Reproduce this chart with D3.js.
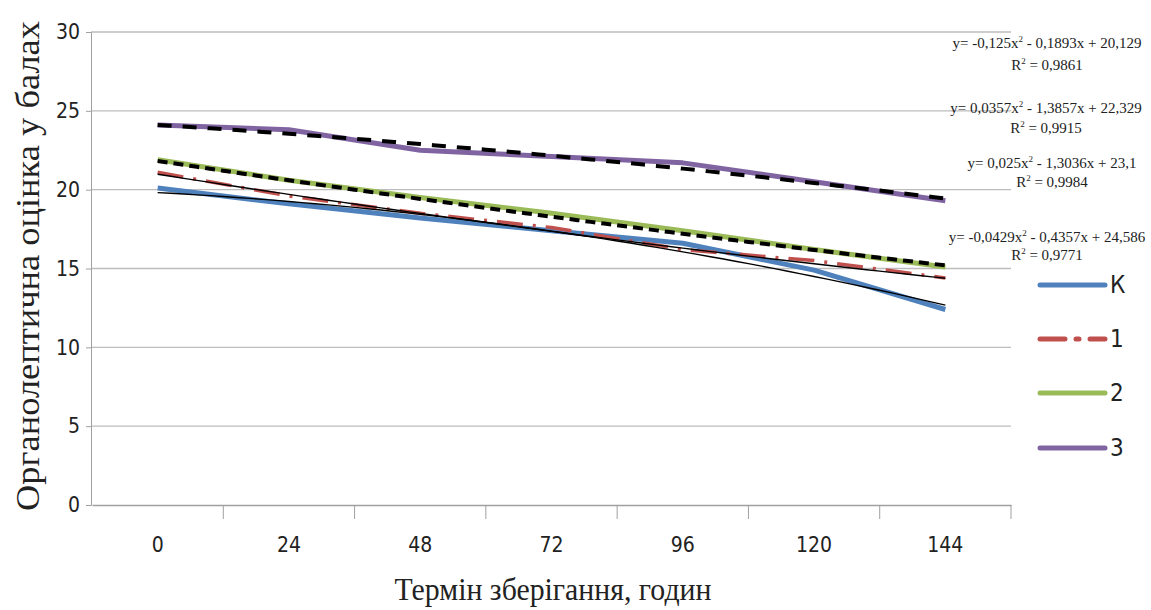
<!DOCTYPE html>
<html>
<head>
<meta charset="utf-8">
<script src="https://cdn.jsdelivr.net/npm/d3@7"></script>
<style>
  body { margin: 0; background: #fff; }
  svg { display: block; }
  .tick text { font-family: "Liberation Sans Narrow", "DejaVu Sans Condensed", sans-serif; fill: #222; }
</style>
</head>
<body>
<div id="chart"></div>
<script>
var width = 1151, height = 610;

// storage time, hours
var categories = [0, 24, 48, 72, 96, 120, 144];
var yTicks = [0, 5, 10, 15, 20, 25, 30];

var seriesNames = ['К', '1', '2', '3'];
var seriesK = [20.1, 19.1, 18.2, 17.4, 16.6, 14.9, 12.4];
var series1 = [21.1, 19.6, 18.5, 17.6, 16.2, 15.5, 14.4];
var series2 = [21.9, 20.6, 19.5, 18.5, 17.4, 16.2, 15.1];
var series3 = [24.1, 23.8, 22.5, 22.1, 21.7, 20.5, 19.3];

// polynomial trendlines (a*x^2 + b*x + c), x = 1..7
var trendK = [-0.125, -0.1893, 20.129];
var trend1 = [0.0357, -1.3857, 22.329];
var trend2 = [0.025, -1.3036, 23.1];
var trend3 = [-0.0429, -0.4357, 24.586];

var eqLabels = ['y= -0,125x² - 0,1893x + 20,129', 'y= 0,0357x² - 1,3857x + 22,329',
                'y= 0,025x² - 1,3036x + 23,1', 'y= -0,0429x² - 0,4357x + 24,586'];
var r2Labels = ['R² = 0,9861', 'R² = 0,9915', 'R² = 0,9984', 'R² = 0,9771'];

var colors = ['#4f81bd', '#c0504d', '#9bbb59', '#8064a2'];
var dashes = [null, '26,10,3,10', null, null];

var svg = d3.select('#chart').append('svg')
  .attr('width', width)
  .attr('height', height);

var x = d3.scaleBand().domain(categories).range([92, 1011]);
var xc = function(d) { return x(d) + x.bandwidth() / 2; };
var y = d3.scaleLinear().domain([0, 30]).range([505, 32]);

// gridlines
svg.append('g').selectAll('line')
  .data(yTicks.slice(1))
  .enter().append('line')
  .attr('x1', 91).attr('x2', 1011)
  .attr('y1', function(d) { return y(d); })
  .attr('y2', function(d) { return y(d); })
  .attr('stroke', '#bdbdbd')
  .attr('stroke-width', 1.3);

// y axis
var yAxis = svg.append('g')
  .attr('transform', 'translate(91,0)')
  .call(d3.axisLeft(y).tickValues(yTicks).tickSize(5).tickPadding(6));
yAxis.select('.domain').attr('stroke', '#a0a0a0');
yAxis.selectAll('.tick line').attr('stroke', '#a0a0a0');
yAxis.selectAll('.tick text').attr('font-size', 21).attr('font-family', null);

// x axis (labels at band centres, ticks at band edges)
var xAxis = svg.append('g')
  .attr('transform', 'translate(0,505)')
  .call(d3.axisBottom(x).tickSize(0).tickPadding(32));
xAxis.select('.domain').attr('stroke', '#a0a0a0').attr('stroke-width', 1.5);
xAxis.selectAll('.tick text').attr('font-size', 21).attr('font-family', null);
xAxis.selectAll('.edge')
  .data(categories.slice(1).concat(['end']))
  .enter().append('line')
  .attr('class', 'edge')
  .attr('x1', function(d) { return d === 'end' ? x.range()[1] : x(d); })
  .attr('x2', function(d) { return d === 'end' ? x.range()[1] : x(d); })
  .attr('y1', 0).attr('y2', 14)
  .attr('stroke', '#a0a0a0');

// data lines
var allSeries = [seriesK, series1, series2, series3];
var line = d3.line()
  .x(function(d, i) { return xc(categories[i]); })
  .y(function(d) { return y(d); });

allSeries.forEach(function(s, i) {
  svg.append('path')
    .datum(s)
    .attr('d', line)
    .attr('fill', 'none')
    .attr('stroke', colors[i])
    .attr('stroke-width', i === 1 ? 3.5 : 5)
    .attr('stroke-dasharray', dashes[i])
    .attr('stroke-linejoin', 'round');
});

// trendlines
var tx = d3.scaleLinear().domain([1, 7]).range([xc(categories[0]), xc(categories[6])]);
var trendSteps = d3.range(1, 7.01, 0.1);
var trends = [trendK, trend1, trend2, trend3];
var trendStyle = [
  { w: 1.4, dash: null },
  { w: 1.4, dash: null },
  { w: 4, dash: '10,6' },
  { w: 4, dash: '14,11' }
];
trends.forEach(function(c, i) {
  var pts = trendSteps.map(function(t) { return [tx(t), y(c[0] * t * t + c[1] * t + c[2])]; });
  svg.append('path')
    .attr('d', d3.line()(pts))
    .attr('fill', 'none')
    .attr('stroke', '#000')
    .attr('stroke-width', trendStyle[i].w)
    .attr('stroke-dasharray', trendStyle[i].dash);
});

// trendline equations
var eqPos = [[1047, 48, 70], [1046, 113, 133], [1052, 168, 187], [1047, 242, 260]];
function writeEq(txt, xx, yy) {
  var t = svg.append('text')
    .attr('x', xx).attr('y', yy)
    .attr('text-anchor', 'middle')
    .attr('font-family', '"Liberation Serif", "DejaVu Serif", serif')
    .attr('font-size', 15)
    .attr('fill', '#222');
  var parts = txt.split('²');
  parts.forEach(function(p, k) {
    var ts = t.append('tspan').text(p);
    if (k > 0) ts.attr('dy', 6);
    if (k < parts.length - 1) {
      t.append('tspan').attr('font-size', 9).attr('dy', -6).text('2');
    }
  });
}
eqLabels.forEach(function(e, i) {
  writeEq(e, eqPos[i][0], eqPos[i][1]);
  writeEq(r2Labels[i], eqPos[i][0], eqPos[i][2]);
});

// legend
var legendY = [285, 339, 393, 448];
seriesNames.forEach(function(n, i) {
  svg.append('line')
    .attr('x1', 1040).attr('x2', 1105)
    .attr('y1', legendY[i]).attr('y2', legendY[i])
    .attr('stroke', colors[i])
    .attr('stroke-width', 5)
    .attr('stroke-linecap', 'round')
    .attr('stroke-dasharray', i === 1 ? '25,11,3,11' : null);
  svg.append('text')
    .attr('x', 1110).attr('y', legendY[i] + 8)
    .attr('font-family', '"Liberation Sans Narrow", "DejaVu Sans Condensed", sans-serif')
    .attr('font-size', 24)
    .attr('fill', '#222')
    .text(n);
});

// axis titles
svg.append('text')
  .attr('transform', 'translate(39,266) rotate(-90)')
  .attr('text-anchor', 'middle')
  .attr('font-family', '"Liberation Serif", serif')
  .attr('font-size', 34)
  .attr('textLength', 490)
  .attr('lengthAdjust', 'spacingAndGlyphs')
  .attr('fill', '#222')
  .text('Органолептична оцінка у балах');

svg.append('text')
  .attr('x', 553).attr('y', 600)
  .attr('text-anchor', 'middle')
  .attr('font-family', '"Liberation Serif", serif')
  .attr('font-size', 32)
  .attr('textLength', 317)
  .attr('lengthAdjust', 'spacingAndGlyphs')
  .attr('fill', '#222')
  .text('Термін зберігання, годин');
</script>
</body>
</html>
